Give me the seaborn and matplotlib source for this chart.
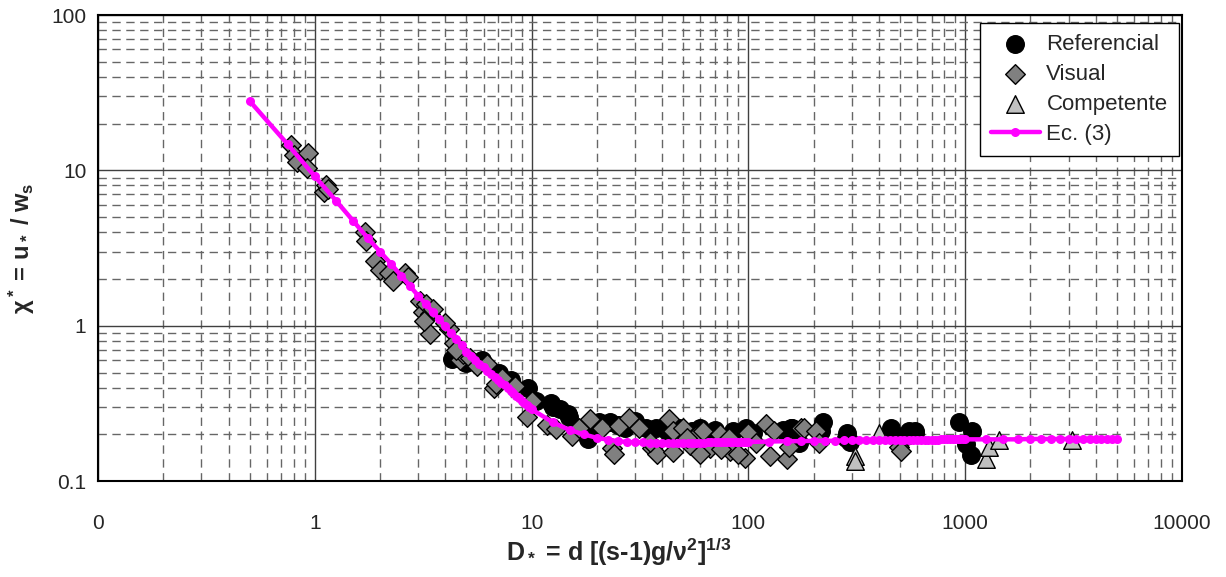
import numpy as np
import pandas as pd
import matplotlib
matplotlib.use("Agg")
import matplotlib.pyplot as plt
import seaborn as sns
from matplotlib.ticker import LogLocator, NullFormatter

# --- data ---
ref_d = [4.3, 5.0, 5.9, 7.1, 8.0, 9.6, 10.5, 12.3, 12.5, 13.5, 14.9, 14.7, 17.9, 18.3, 20.5, 20.5,
         22.9, 25, 27, 30, 33.8, 37.6, 42, 48, 55, 59.8, 64.2, 70, 85, 98, 105, 145, 158, 159,
         172, 216, 222, 282, 285, 295, 456, 535, 550, 585, 590, 940, 1010, 1060, 1080]
ref_chi = [0.61, 0.58, 0.60, 0.50, 0.45, 0.40, 0.33, 0.32, 0.30, 0.29, 0.26, 0.27, 0.205, 0.186, 0.24, 0.227,
           0.24, 0.23, 0.22, 0.245, 0.22, 0.22, 0.21, 0.22, 0.21, 0.22, 0.195, 0.215, 0.21, 0.22, 0.205, 0.215, 0.22, 0.22,
           0.177, 0.21, 0.24, 0.19, 0.205, 0.18, 0.22, 0.195, 0.21, 0.205, 0.21, 0.24, 0.174, 0.148, 0.21]

vis_d = [0.78, 0.80, 0.83, 0.93, 0.92, 1.10, 1.12, 1.15, 1.70, 1.72,
         1.90, 2.00, 2.20, 2.30, 2.60, 2.70, 3.05, 3.15, 3.27, 3.39, 3.50, 3.40, 3.20, 4.18, 4.00,
         4.40, 4.65, 4.80, 4.50, 5.2, 5.6, 6.25, 6.70, 6.85, 7.3, 8.4, 9.5, 10.0,
         11.8, 13.0, 15.4, 16.6, 18.5, 21.2, 23.6, 24.0, 25.3, 28.0, 31.4, 36.0, 38, 43.0, 44.7,
         49.9, 53.7, 57.6, 61.6, 66.5, 74, 81, 82.6, 97, 45, 60, 75, 90, 35, 52,
         100, 109, 121, 126, 131, 150, 154, 175, 180, 206, 211, 494, 504]
vis_chi = [14.5, 12.5, 11.3, 13.0, 10.3, 7.3, 8.0, 7.6, 4.0, 3.5,
           2.6, 2.3, 2.2, 1.95, 2.2, 2.05, 1.45, 1.22, 1.38, 1.20, 1.29, 0.89, 1.08, 0.96, 1.05,
           0.77, 0.60, 0.66, 0.70, 0.62, 0.55, 0.57, 0.40, 0.42, 0.46, 0.41, 0.26, 0.33,
           0.23, 0.216, 0.195, 0.22, 0.25, 0.22, 0.164, 0.15, 0.226, 0.256, 0.22, 0.164, 0.15, 0.25, 0.21,
           0.22, 0.17, 0.195, 0.21, 0.164, 0.20, 0.19, 0.156, 0.142, 0.155, 0.15, 0.16, 0.15, 0.18, 0.19,
           0.205, 0.177, 0.233, 0.145, 0.21, 0.138, 0.165, 0.22, 0.22, 0.21, 0.177, 0.165, 0.156]

comp_d = [310, 310, 400, 1250, 1290, 1440, 3100]
comp_chi = [0.145, 0.135, 0.205, 0.14, 0.165, 0.185, 0.185]

ec3_d = [0.5, 0.75, 1.0, 1.25, 1.5, 1.75, 2.0, 2.25, 2.5, 2.75, 3.0, 3.25, 3.5, 3.75, 4.0, 4.25,
         4.5, 4.75, 5.0, 5.25, 5.5, 5.75, 6.0, 6.25, 6.5, 6.75, 7.0, 7.25, 7.5, 7.75, 8.0, 8.25,
         8.5, 8.75, 9.0, 9.25, 9.5, 9.75, 10.0,
         12.5, 15, 17.5, 20, 22.5, 25, 27.5, 30, 32.5, 35, 37.5, 40, 42.5, 45, 47.5, 50, 52.5, 55,
         57.5, 60, 62.5, 65, 67.5, 70, 72.5, 75, 77.5, 80, 82.5, 85, 87.5, 90, 92.5, 95, 97.5, 100,
         125, 150, 175, 200, 225, 250, 275, 300, 325, 350, 375, 400, 425, 450, 475, 500, 525, 550,
         575, 600, 625, 650, 675, 700, 725, 750, 775, 800, 825, 850, 875, 900, 925, 950, 975, 1000,
         1250, 1500, 1750, 2000, 2250, 2500, 2750, 3000, 3250, 3500, 3750, 4000, 4250, 4500, 4750, 5000]
ec3_chi = [28.0, 14.7, 9.15, 6.4, 4.75, 3.68, 3.0, 2.5, 2.1, 1.8, 1.56, 1.38, 1.23, 1.1, 0.99, 0.9,
           0.82, 0.75, 0.68, 0.64, 0.6, 0.57, 0.54, 0.515, 0.49, 0.47, 0.45, 0.43, 0.415, 0.4, 0.38, 0.37,
           0.355, 0.345, 0.33, 0.32, 0.31, 0.30, 0.29,
           0.24, 0.213, 0.2, 0.19, 0.185, 0.181, 0.179, 0.178, 0.178, 0.177, 0.177, 0.177, 0.177, 0.177, 0.177, 0.177, 0.177, 0.177,
           0.177, 0.177, 0.177, 0.178, 0.178, 0.178, 0.178, 0.178, 0.178, 0.178, 0.178, 0.178, 0.178, 0.178, 0.179, 0.179, 0.179, 0.179,
           0.18, 0.181, 0.181, 0.182, 0.182, 0.182, 0.183, 0.183, 0.183, 0.183, 0.184, 0.184, 0.184, 0.184, 0.184, 0.184, 0.185, 0.185,
           0.185, 0.185, 0.185, 0.185, 0.185, 0.185, 0.185, 0.185, 0.186, 0.186, 0.186, 0.186, 0.186, 0.186, 0.186, 0.186, 0.186, 0.186,
           0.186, 0.186, 0.186, 0.187, 0.187, 0.187, 0.187, 0.187, 0.187, 0.187, 0.187, 0.187, 0.187, 0.187, 0.187, 0.187]

xtick_vals = [0.1, 1, 10, 100, 1000, 10000]
xtick_labels = ['0', '1', '10', '100', '1000', '10000']
ytick_vals = [0.1, 1, 10, 100]
ytick_labels = ['0.1', '1', '10', '100']

df_ref = pd.DataFrame({'D': ref_d, 'chi': ref_chi})
df_vis = pd.DataFrame({'D': vis_d, 'chi': vis_chi})
df_comp = pd.DataFrame({'D': comp_d, 'chi': comp_chi})
df_ec = pd.DataFrame({'D': ec3_d, 'chi': ec3_chi})

sns.set_style('white')
plt.rcParams['font.family'] = ['Liberation Sans', 'DejaVu Sans']
plt.rcParams['mathtext.default'] = 'regular'

fig = plt.figure(figsize=(12.26, 5.77), dpi=100)
ax = fig.add_axes([0.080, 0.166, 0.884, 0.808])

sns.scatterplot(data=df_ref, x='D', y='chi', ax=ax, marker='o', s=160, color='black',
                edgecolor='black', linewidth=1, label='Referencial', zorder=3)
sns.scatterplot(data=df_vis, x='D', y='chi', ax=ax, marker='D', s=100, color='#808080',
                edgecolor='black', linewidth=1, label='Visual', zorder=4)
sns.scatterplot(data=df_comp, x='D', y='chi', ax=ax, marker='^', s=160, color='#C0C0C0',
                edgecolor='black', linewidth=1, label='Competente', zorder=5)
sns.lineplot(data=df_ec, x='D', y='chi', ax=ax, sort=False, estimator=None, color='#FF00FF',
             linewidth=3.2, marker='o', markersize=6.5, markeredgewidth=0, label='Ec. (3)', zorder=6)

ax.set_xscale('log')
ax.set_yscale('log')
ax.set_xlim(0.1, 10000)
ax.set_ylim(0.1, 100)
ax.set_xticks(xtick_vals, labels=xtick_labels)
ax.set_yticks(ytick_vals, labels=ytick_labels)
ax.xaxis.set_minor_locator(LogLocator(base=10, subs=np.arange(2, 10)))
ax.yaxis.set_minor_locator(LogLocator(base=10, subs=np.arange(2, 10)))
ax.xaxis.set_minor_formatter(NullFormatter())
ax.yaxis.set_minor_formatter(NullFormatter())

ax.grid(True, which='major', color='#404040', linewidth=1, linestyle='-', zorder=0)
ax.grid(True, which='minor', color='#666666', linewidth=1, linestyle=(0, (6, 4)), zorder=0)
ax.set_axisbelow(True)

ax.tick_params(axis='both', which='major', direction='inout', length=9, width=1.2,
               labelsize=15, color='black')
ax.tick_params(axis='x', which='major', pad=19)
ax.tick_params(axis='y', which='major', pad=4)
ax.tick_params(axis='both', which='minor', direction='inout', length=7, width=1, color='black')
for sp in ax.spines.values():
    sp.set_color('black')
    sp.set_linewidth(1.5)

ax.set_xlabel('D$_*$ = d [(s-1)g/ν$^2$]$^{1/3}$', fontsize=18, fontweight='bold')
ax.set_ylabel('χ$^*$ = u$_*$ / w$_s$', fontsize=17, fontweight='bold', labelpad=10)
ax.xaxis.set_label_coords(0.48, -0.117)

leg = ax.legend(loc='upper right', bbox_to_anchor=(0.997, 0.983), borderaxespad=0,
                fontsize=16, frameon=True, fancybox=False, framealpha=1,
                handlelength=2.2, handletextpad=0.3, labelspacing=0.4, borderpad=0.5)
leg.get_frame().set_edgecolor('black')
leg.get_frame().set_linewidth(1)

fig.savefig('out.png', dpi=100)
